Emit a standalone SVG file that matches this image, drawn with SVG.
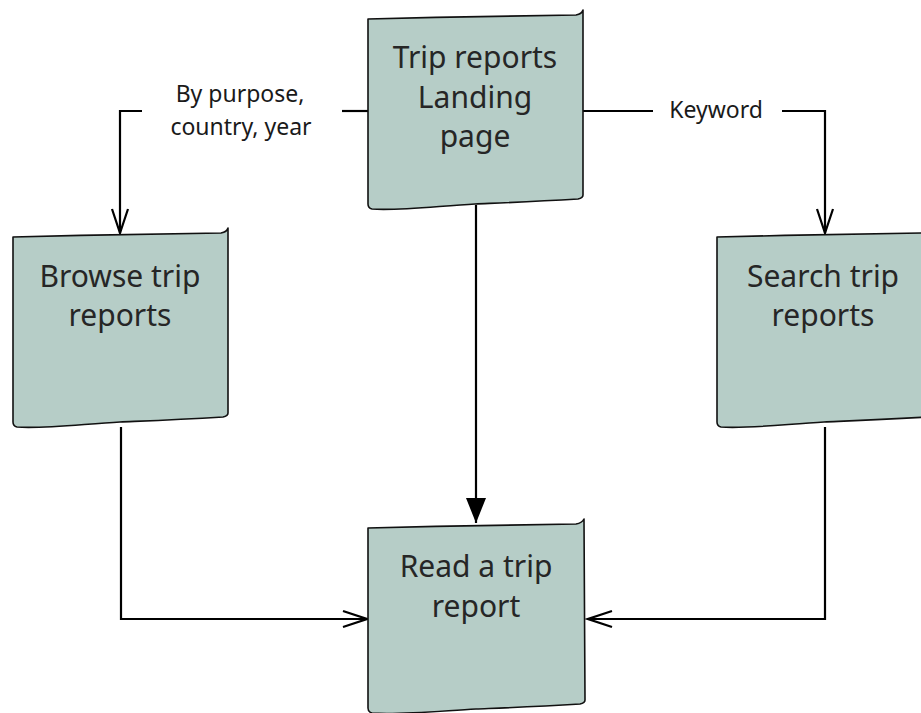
<svg xmlns="http://www.w3.org/2000/svg" width="921" height="713" viewBox="0 0 921 713">
  <style>
    .box { fill: #b6cdc7; stroke: #111; stroke-width: 1.6; stroke-linejoin: round; }
    .node-text { font-family: "Noto Sans", "Open Sans", sans-serif; font-size: 30px; fill: #262626; text-anchor: middle; }
    .label { font-family: "Noto Sans", "Open Sans", sans-serif; font-size: 23px; fill: #1a1a1a; text-anchor: middle; }
    .conn { fill: none; stroke: #000; stroke-width: 2.2; }
  </style>
  <defs>
    <path id="doc" d="M0,2 C70,0 150,-1 208,-2 Q214,-3 215,-7 L215,178 Q215,181 210,182 C160,185 130,186 107,187 C70,189 30,194 4,192 Q0,191 0,187 Z"/>
    <marker id="open" markerUnits="userSpaceOnUse" viewBox="-27 -11 30 22" refX="0" refY="0" markerWidth="30" markerHeight="22" orient="auto">
      <path d="M-24,-8 L0,0 L-24,8" fill="none" stroke="#000" stroke-width="2.2"/>
    </marker>
    <marker id="filled" markerUnits="userSpaceOnUse" viewBox="-27 -12 30 24" refX="0" refY="0" markerWidth="30" markerHeight="24" orient="auto">
      <path d="M-25,-10 L0,0 L-25,10 Z" fill="#000"/>
    </marker>
  </defs>

  <g id="connectors">
    <path class="conn" d="M368,111 H342"/>
    <path class="conn" d="M142,111 H120 V233" marker-end="url(#open)"/>
    <path class="conn" d="M583,111 H653"/>
    <path class="conn" d="M782,111 H825 V233" marker-end="url(#open)"/>
    <path class="conn" d="M476,205 V523" marker-end="url(#filled)"/>
    <path class="conn" d="M121,427 V619 H367" marker-end="url(#open)"/>
    <path class="conn" d="M825,427 V619 H588" marker-end="url(#open)"/>
  </g>

  <g id="edge-labels">
    <text class="label" x="240" y="102">By purpose,</text>
    <text class="label" x="241" y="135">country, year</text>
    <text class="label" x="716" y="118">Keyword</text>
  </g>

  <g id="landing">
    <use href="#doc" class="box" transform="translate(368,17)"/>
    <text class="node-text" x="475" y="68">Trip reports</text>
    <text class="node-text" x="475" y="108">Landing</text>
    <text class="node-text" x="475" y="147">page</text>
  </g>

  <g id="browse">
    <use href="#doc" class="box" transform="translate(13,235)"/>
    <text class="node-text" x="120" y="287">Browse trip</text>
    <text class="node-text" x="120" y="326">reports</text>
  </g>

  <g id="search">
    <use href="#doc" class="box" transform="translate(717,235)"/>
    <text class="node-text" x="823" y="287">Search trip</text>
    <text class="node-text" x="823" y="326">reports</text>
  </g>

  <g id="read">
    <path class="box" d="M368,528 C438,526 518,525 576,524 Q582,523 584,519 L585,700 Q585,703 580,704 C530,707 500,708 476,709 C440,711 400,715 372,713 Q368,712 368,708 Z"/>
    <text class="node-text" x="476" y="577">Read a trip</text>
    <text class="node-text" x="476" y="617">report</text>
  </g>
</svg>
